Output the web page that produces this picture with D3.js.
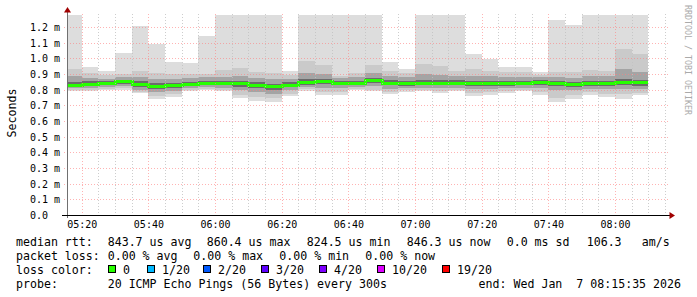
<!DOCTYPE html>
<html><head><meta charset="utf-8">
<script src="https://cdn.jsdelivr.net/npm/d3@7"></script>
<style>
body{margin:0;background:#fff}
svg{display:block}
text{font-family:"DejaVu Sans Mono",monospace;white-space:pre}
</style>
</head><body>
<svg id="c" width="697" height="297"></svg>
<script>
// ---- data (values in milliseconds) ----
const colStart = ["05:15","05:20","05:25","05:30","05:35","05:40","05:45","05:50","05:55",
  "06:00","06:05","06:10","06:15","06:20","06:25","06:30","06:35","06:40","06:45","06:50","06:55",
  "07:00","07:05","07:10","07:15","07:20","07:25","07:30","07:35","07:40","07:45","07:50","07:55",
  "08:00","08:05"];
const pingMax = [1.30,0.944,0.919,1.034,1.206,1.093,0.976,0.970,1.142,1.30,1.30,1.30,1.30,0.917,1.30,1.30,1.30,1.30,1.30,0.976,0.930,1.30,1.30,1.30,1.027,0.998,0.944,0.944,0.913,1.244,1.212,1.30,1.30,1.30,1.30];
const ping19 = [0.932,0.905,0.895,0.900,0.918,0.905,0.900,0.898,0.900,0.925,0.940,0.913,0.904,0.895,0.985,0.959,0.890,0.906,0.959,0.920,0.905,0.964,0.951,0.917,0.930,0.920,0.910,0.912,0.895,0.915,0.910,0.925,0.921,1.059,1.027];
const ping16 = [0.885,0.875,0.870,0.878,0.880,0.868,0.870,0.872,0.878,0.882,0.885,0.875,0.868,0.870,0.905,0.900,0.875,0.880,0.905,0.885,0.878,0.900,0.895,0.885,0.888,0.885,0.880,0.882,0.878,0.882,0.875,0.888,0.885,0.930,0.915];
const ping13 = [0.850,0.852,0.858,0.864,0.852,0.842,0.842,0.850,0.858,0.858,0.855,0.846,0.838,0.847,0.865,0.870,0.858,0.858,0.876,0.860,0.855,0.860,0.860,0.860,0.858,0.858,0.858,0.858,0.862,0.858,0.850,0.858,0.858,0.868,0.860];
const median = [0.832,0.836,0.845,0.853,0.836,0.826,0.827,0.836,0.845,0.845,0.840,0.830,0.8245,0.832,0.849,0.855,0.843,0.845,0.8604,0.845,0.840,0.845,0.845,0.845,0.843,0.843,0.843,0.843,0.849,0.843,0.836,0.843,0.843,0.851,0.8463];
const ping8 = [0.818,0.822,0.830,0.838,0.818,0.805,0.810,0.825,0.832,0.828,0.820,0.810,0.800,0.815,0.832,0.835,0.828,0.830,0.845,0.828,0.825,0.830,0.828,0.830,0.825,0.826,0.826,0.828,0.832,0.822,0.818,0.825,0.825,0.830,0.825];
const ping5 = [0.808,0.810,0.815,0.822,0.800,0.785,0.790,0.812,0.818,0.810,0.795,0.785,0.775,0.795,0.815,0.812,0.810,0.815,0.825,0.805,0.808,0.812,0.808,0.812,0.805,0.805,0.808,0.812,0.812,0.795,0.795,0.805,0.802,0.805,0.805];
const ping2 = [0.800,0.800,0.805,0.808,0.788,0.760,0.770,0.800,0.806,0.798,0.765,0.750,0.745,0.775,0.802,0.785,0.785,0.805,0.800,0.785,0.795,0.800,0.792,0.800,0.780,0.782,0.790,0.798,0.785,0.745,0.765,0.785,0.775,0.770,0.780];
const pingMin = [0.793,0.793,0.798,0.798,0.779,0.742,0.755,0.793,0.798,0.789,0.747,0.728,0.721,0.757,0.793,0.766,0.768,0.798,0.789,0.772,0.783,0.789,0.779,0.789,0.762,0.766,0.777,0.789,0.768,0.723,0.742,0.768,0.755,0.738,0.764];

const yTicks = [0,0.1,0.2,0.3,0.4,0.5,0.6,0.7,0.8,0.9,1.0,1.1,1.2];
const rttLabel = "median rtt:";
const rttStats = ["843.7 us avg","860.4 us max","824.5 us min","846.3 us now","0.0 ms sd","106.3","am/s"];
const lossLabel = "packet loss:";
const lossStats = ["0.00 % avg","0.00 % max","0.00 % min","0.00 % now"];
const colorLabel = "loss color:";
const lossNames = ["0","1/20","2/20","3/20","4/20","10/20","19/20"];
const lossColors = ["#26ff00","#00b8ff","#0059ff","#5e00ff","#7e00ff","#dd00ff","#ff0000"];
const probeLabel = "probe:";
const probeText = "20 ICMP Echo Pings (56 Bytes) every 300s";
const endText = "end: Wed Jan  7 08:15:35 2026";
const sideText = "RRDTOOL / TOBI OETIKER";

// ---- layout ----
const L = 67, R = 667, T = 15, B = 215;
const day = (h,m,s) => new Date(2026,0,7,h,m,s||0);
const parse = s => { const [h,m] = s.split(":").map(Number); return day(h,m,0); };
const t0 = day(5,15,35), t1 = day(8,15,35);
const x = d3.scaleTime().domain([t0,t1]).range([L,R]);
const y = d3.scaleLinear().domain([0, 1.2763]).range([B,T]);
const step = 5*60*1000;

const svg = d3.select("#c");
svg.append("defs").append("clipPath").attr("id","pc")
  .append("rect").attr("x",L).attr("y",T).attr("width",R-L).attr("height",B-T);

const cols = colStart.map((s,i)=>({s:parse(s), i}));
const layers = [
  [pingMin, pingMax, "#dddddd"],
  [ping2, ping19, "#cacaca"],
  [ping5, ping16, "#a4a4a4"],
  [ping8, ping13, "#6b6b6b"]
];
const gS = svg.append("g").attr("clip-path","url(#pc)").attr("shape-rendering","crispEdges");
layers.forEach(([lo,hi,c])=>{
  gS.selectAll(null).data(cols).enter().append("rect")
    .attr("x", d=>Math.round(x(d.s < t0 ? t0 : d.s)))
    .attr("width", d=>Math.round(x(new Date(+d.s+step))) - Math.round(x(d.s < t0 ? t0 : d.s)))
    .attr("y", d=>Math.round(y(hi[d.i])))
    .attr("height", d=>Math.round(y(lo[d.i])) - Math.round(y(hi[d.i])))
    .attr("fill", c);
});
// median line (loss colored)
const medPts = cols.map(d=>[d.s < t0 ? t0 : d.s, median[d.i]]);
medPts.push([new Date(+cols[cols.length-1].s+step), median[median.length-1]]);
gS.append("path").datum(medPts)
  .attr("d", d3.line().x(d=>Math.round(x(d[0]))).y(d=>Math.round(y(d[1]))+0.5).curve(d3.curveStepAfter))
  .attr("fill","none").attr("stroke", lossColors[0]).attr("stroke-width",3);

// ---- grid ----
const gG = svg.append("g").attr("shape-rendering","crispEdges");
const minor = d3.timeMinute.every(5).range(t0, t1);
const major = d3.timeMinute.every(20).range(t0, t1);
gG.selectAll(null).data(minor.filter(t=>t.getMinutes()%20!==0)).enter().append("line")
  .attr("x1",d=>Math.round(x(d))+0.5).attr("x2",d=>Math.round(x(d))+0.5)
  .attr("y1",T-1).attr("y2",B+3).attr("stroke","#c0c0c0").attr("stroke-opacity",0.8)
  .attr("stroke-dasharray","1,2");
gG.selectAll(null).data(major).enter().append("line")
  .attr("x1",d=>Math.round(x(d))+0.5).attr("x2",d=>Math.round(x(d))+0.5)
  .attr("y1",T-1).attr("y2",B+3).attr("stroke","#ff8080").attr("stroke-opacity",0.6)
  .attr("stroke-dasharray","1,2");
gG.selectAll(null).data(yTicks.slice(1)).enter().append("line")
  .attr("x1",L-3).attr("x2",R+3)
  .attr("y1",d=>Math.round(y(d))+0.5).attr("y2",d=>Math.round(y(d))+0.5)
  .attr("stroke","#ff8080").attr("stroke-opacity",0.6).attr("stroke-dasharray","1,2");

// ---- axes ----
const xAxis = svg.append("g").attr("transform",`translate(0,${B})`)
  .call(d3.axisBottom(x).tickValues(major).tickFormat(d3.timeFormat("%H:%M")).tickSize(0));
xAxis.select(".domain").remove();
xAxis.selectAll("text").attr("y",13).attr("dy",0).attr("font-size","10px")
  .attr("font-family","DejaVu Sans Mono").attr("fill","#000");

const yAxis = svg.append("g").attr("transform",`translate(${L},0)`)
  .call(d3.axisLeft(y).tickValues(yTicks).tickFormat(v=> v===0 ? "0.0" : d3.format(".1f")(v)+" m").tickSize(0));
yAxis.select(".domain").remove();
yAxis.selectAll("text").attr("text-anchor","start").attr("x",30-L).attr("dy","0.35em")
  .attr("font-size","10px").attr("font-family","DejaVu Sans Mono").attr("fill","#000");

// axis lines + arrows
svg.append("line").attr("x1",L+0.5).attr("x2",L+0.5).attr("y1",10).attr("y2",B+3)
  .attr("stroke","#707070").attr("shape-rendering","crispEdges");
svg.append("line").attr("x1",L-5).attr("x2",671).attr("y1",B+0.5).attr("y2",B+0.5)
  .attr("stroke","#000").attr("shape-rendering","crispEdges");
svg.append("path").attr("d",`M${L+0.5},7 L${L+4},12.5 L${L-3},12.5 Z`).attr("fill","#a00000");
svg.append("path").attr("d",`M675,${B+0.5} L669.5,${B-3} L669.5,${B+4} Z`).attr("fill","#a00000");

// ---- titles ----
svg.append("text").attr("transform","translate(16,113) rotate(-90)").attr("text-anchor","middle")
  .attr("font-size","11.6px").text("Seconds");
svg.append("text").attr("transform","translate(685,5) rotate(90)").attr("text-anchor","start")
  .attr("font-size","8.3px").attr("fill","#aaaaaa").text(sideText);

// ---- legend ----
const lg = svg.append("g").attr("font-size","11.6px").attr("fill","#000");
const rowY = [245.5, 259.5, 273.5, 287.5];
lg.append("text").attr("x",16).attr("y",rowY[0]).text(rttLabel);
const rttX = [107.7,206.7,306.7,406.7,506.7,586.7,641.7];
rttStats.forEach((s,i)=>lg.append("text").attr("x",rttX[i]).attr("y",rowY[0]).text(s));
lg.append("text").attr("x",16).attr("y",rowY[1]).text(lossLabel);
const lossX = [107.7,193.3,279.3,365.3];
lossStats.forEach((s,i)=>lg.append("text").attr("x",lossX[i]).attr("y",rowY[1]).text(s));
lg.append("text").attr("x",16).attr("y",rowY[2]).text(colorLabel);
const boxX = [108.5,147.5,203.5,261.5,319.5,377.5,442.5];
lossNames.forEach((s,i)=>{
  lg.append("rect").attr("x",boxX[i]).attr("y",265.5).attr("width",7).attr("height",7)
    .attr("fill",lossColors[i]).attr("stroke","#000");
  lg.append("text").attr("x",boxX[i]+14.5).attr("y",rowY[2]).text(s);
});
lg.append("text").attr("x",16).attr("y",rowY[3]).text(probeLabel);
lg.append("text").attr("x",107.7).attr("y",rowY[3]).text(probeText);
lg.append("text").attr("x",681).attr("y",rowY[3]).attr("text-anchor","end").text(endText);
</script>
</body></html>
